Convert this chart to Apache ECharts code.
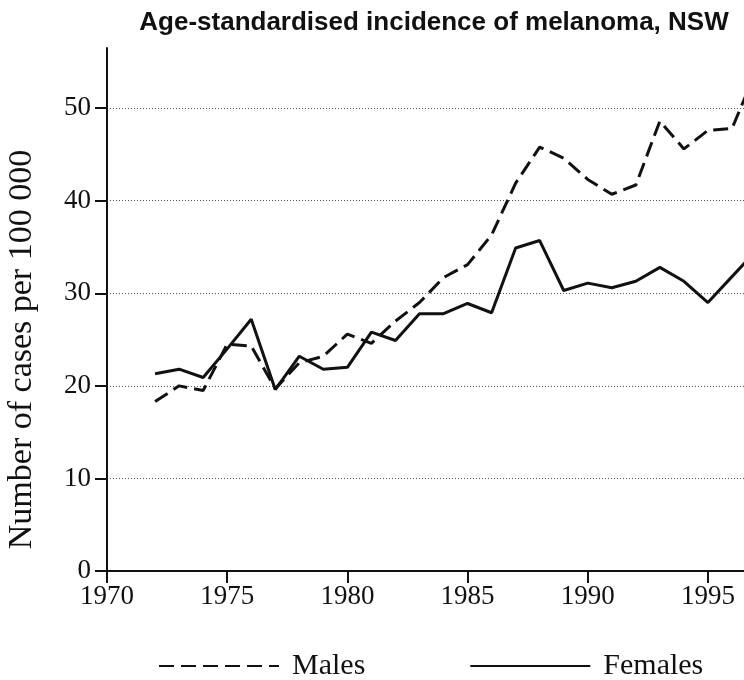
<!DOCTYPE html>
<html>
<head>
<meta charset="utf-8">
<script src="https://cdn.jsdelivr.net/npm/echarts@6/dist/echarts.min.js"></script>
<style>
  html, body { margin: 0; padding: 0; background: #fff; }
  #chart { width: 744px; height: 680px; }
</style>
</head>
<body>
<div id="chart"></div>
<script>
// values (cases per 100 000)
var years = [1972, 1973, 1974, 1975, 1976, 1977, 1978, 1979, 1980, 1981, 1982, 1983, 1984,
             1985, 1986, 1987, 1988, 1989, 1990, 1991, 1992, 1993, 1994, 1995, 1996, 1997]
var males = [18.3, 20.0, 19.5, 24.5, 24.3, 19.7, 22.5, 23.2, 25.6, 24.6, 27.0, 29.0, 31.7,
             33.1, 36.3, 41.9, 45.8, 44.6, 42.3, 40.7, 41.7, 48.6, 45.6, 47.6, 47.8, 54.0]
var females = [21.3, 21.8, 20.9, 24.0, 27.2, 19.6, 23.2, 21.8, 22.0, 25.8, 24.9, 27.8, 27.8,
               28.9, 27.9, 34.9, 35.7, 30.3, 31.1, 30.6, 31.3, 32.8, 31.3, 29.0, 31.8, 34.6]

var serif = '"Liberation Serif", "DejaVu Serif", serif'

function pairs(vals) {
    return years.map(function (y, i) { return [y, vals[i]] })
}

var chart = echarts.init(document.getElementById('chart'))
chart.setOption({
    animation: false,
    title: {
        text: 'Age-standardised incidence of melanoma, NSW',
        left: 429,
        top: 5,
        textAlign: 'center',
        textStyle: {
            fontFamily: '"Liberation Sans", Arial, sans-serif',
            fontWeight: 'bold',
            fontSize: 26,
            color: '#111'
        }
    },
    legend: {
        top: 646,
        left: 153,
        itemWidth: 120,
        itemHeight: 14,
        itemGap: 104,
        itemStyle: { opacity: 0 },
        textStyle: { fontFamily: serif, fontSize: 30, color: '#111', padding: [0, 0, 0, 8] },
        data: ['Males', 'Females']
    },
    grid: {
        left: 107,
        right: 0,
        top: 48,
        bottom: 109,
        outerBoundsMode: 'none'
    },
    xAxis: {
        type: 'value',
        min: 1970,
        max: 1996.5,
        interval: 5,
        axisLine: { lineStyle: { color: '#111', width: 2 } },
        axisTick: { show: true, length: 12, lineStyle: { color: '#111', width: 2 } },
        axisLabel: {
            showMaxLabel: false,
            margin: 12,
            formatter: function (v) { return String(v) },
            fontFamily: serif,
            fontSize: 27,
            color: '#111'
        },
        splitLine: { show: false }
    },
    yAxis: {
        type: 'value',
        min: 0,
        max: 56.5,
        interval: 10,
        name: 'Number of cases per 100 000',
        nameLocation: 'middle',
        nameGap: 68,
        nameTextStyle: { fontFamily: serif, fontSize: 34, color: '#111', padding: [0, 80, 0, 0] },
        axisLine: { show: true, lineStyle: { color: '#111', width: 2 } },
        axisTick: { show: true, length: 12, lineStyle: { color: '#111', width: 2 } },
        axisLabel: {
            showMaxLabel: false,
            margin: 16,
            fontFamily: serif,
            fontSize: 27,
            color: '#111'
        },
        splitLine: {
            show: true,
            showMinLine: false,
            showMaxLine: false,
            lineStyle: { color: '#555', type: [1, 2], width: 1 }
        }
    },
    series: [{
        name: 'Males',
        type: 'line',
        data: pairs(males),
        symbol: 'none',
        lineStyle: { color: '#111', width: 3, type: [15, 7] },
        itemStyle: { color: '#111' }
    }, {
        name: 'Females',
        type: 'line',
        data: pairs(females),
        symbol: 'none',
        lineStyle: { color: '#111', width: 3 },
        itemStyle: { color: '#111' }
    }]
})
</script>
</body>
</html>
